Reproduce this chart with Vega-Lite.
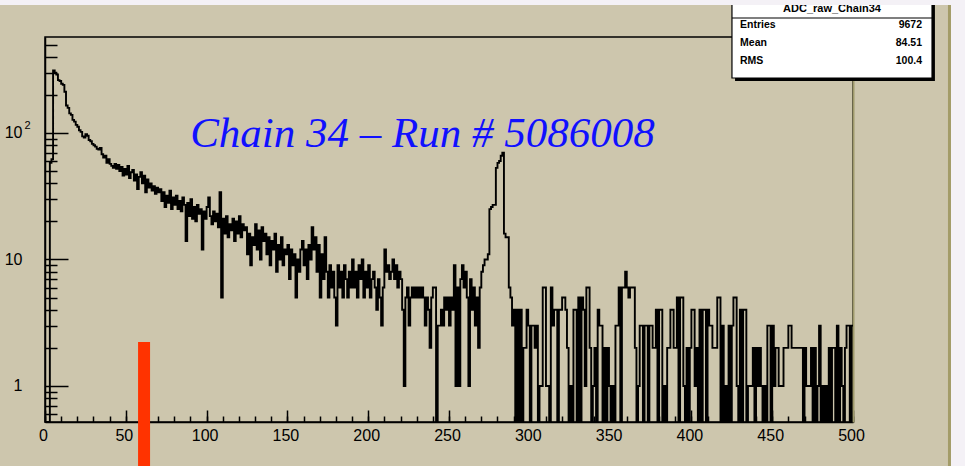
{
  "$schema": "https://vega.github.io/schema/vega-lite/v6.json",
  "width": 808,
  "height": 385,
  "autosize": {"type": "none"},
  "padding": {"left": 45, "top": 37, "right": 112, "bottom": 44},
  "background": "#cdc6ad",
  "config": {
    "view": {"stroke": "#000000", "strokeWidth": 1.5},
    "axis": {"grid": false, "title": null, "tickColor": "#000000", "tickWidth": 1.5, "labelColor": "#000000", "labelFont": "Liberation Sans", "labelFontSize": 16, "domainColor": "#000000", "domainWidth": 1.5}
  },
  "datasets": {
    "adc": [
      {"x":0,"n":0},{"x":1,"n":0},{"x":2,"n":0},{"x":3,"n":58},{"x":4,"n":62},{"x":5,"n":312},{"x":6,"n":300},{"x":7,"n":290},{"x":8,"n":262},{"x":9,"n":258},
      {"x":10,"n":245},{"x":11,"n":240},{"x":12,"n":212},{"x":13,"n":165},{"x":14,"n":158},{"x":15,"n":143},{"x":16,"n":139},{"x":17,"n":127},{"x":18,"n":123},{"x":19,"n":116},
      {"x":20,"n":112},{"x":21,"n":105},{"x":22,"n":102},{"x":23,"n":94},{"x":24,"n":92},{"x":25,"n":98},{"x":26,"n":95},{"x":27,"n":88},{"x":28,"n":86},{"x":29,"n":82},
      {"x":30,"n":80},{"x":31,"n":78},{"x":32,"n":75},{"x":33,"n":74},{"x":34,"n":76},{"x":35,"n":68},{"x":36,"n":64},{"x":37,"n":66},{"x":38,"n":58},{"x":39,"n":62},
      {"x":40,"n":57},{"x":41,"n":55},{"x":42,"n":53},{"x":43,"n":57},{"x":44,"n":52},{"x":45,"n":56},{"x":46,"n":50},{"x":47,"n":54},{"x":48,"n":46},{"x":49,"n":52},
      {"x":50,"n":47},{"x":51,"n":55},{"x":52,"n":44},{"x":53,"n":49},{"x":54,"n":51},{"x":55,"n":42},{"x":56,"n":47},{"x":57,"n":36},{"x":58,"n":45},{"x":59,"n":49},
      {"x":60,"n":40},{"x":61,"n":46},{"x":62,"n":34},{"x":63,"n":43},{"x":64,"n":37},{"x":65,"n":40},{"x":66,"n":35},{"x":67,"n":38},{"x":68,"n":33},{"x":69,"n":37},
      {"x":70,"n":34},{"x":71,"n":36},{"x":72,"n":29},{"x":73,"n":34},{"x":74,"n":26},{"x":75,"n":32},{"x":76,"n":28},{"x":77,"n":35},{"x":78,"n":25},{"x":79,"n":31},
      {"x":80,"n":27},{"x":81,"n":32},{"x":82,"n":25},{"x":83,"n":29},{"x":84,"n":24},{"x":85,"n":31},{"x":86,"n":27},{"x":87,"n":14},{"x":88,"n":28},{"x":89,"n":22},
      {"x":90,"n":30},{"x":91,"n":21},{"x":92,"n":26},{"x":93,"n":20},{"x":94,"n":27},{"x":95,"n":23},{"x":96,"n":25},{"x":97,"n":12},{"x":98,"n":24},{"x":99,"n":21},
      {"x":100,"n":26},{"x":101,"n":31},{"x":102,"n":22},{"x":103,"n":19},{"x":104,"n":24},{"x":105,"n":20},{"x":106,"n":23},{"x":107,"n":18},{"x":108,"n":34},{"x":109,"n":5},
      {"x":110,"n":21},{"x":111,"n":16},{"x":112,"n":22},{"x":113,"n":15},{"x":114,"n":19},{"x":115,"n":17},{"x":116,"n":21},{"x":117,"n":14},{"x":118,"n":20},{"x":119,"n":16},
      {"x":120,"n":22},{"x":121,"n":15},{"x":122,"n":19},{"x":123,"n":17},{"x":124,"n":18},{"x":125,"n":11},{"x":126,"n":16},{"x":127,"n":9},{"x":128,"n":15},{"x":129,"n":13},
      {"x":130,"n":19},{"x":131,"n":12},{"x":132,"n":17},{"x":133,"n":10},{"x":134,"n":18},{"x":135,"n":14},{"x":136,"n":16},{"x":137,"n":11},{"x":138,"n":15},{"x":139,"n":9},
      {"x":140,"n":14},{"x":141,"n":12},{"x":142,"n":16},{"x":143,"n":8},{"x":144,"n":13},{"x":145,"n":10},{"x":146,"n":15},{"x":147,"n":9},{"x":148,"n":12},{"x":149,"n":11},
      {"x":150,"n":13},{"x":151,"n":7},{"x":152,"n":12},{"x":153,"n":9},{"x":154,"n":11},{"x":155,"n":5},{"x":156,"n":10},{"x":157,"n":8},{"x":158,"n":12},{"x":159,"n":14},
      {"x":160,"n":9},{"x":161,"n":12},{"x":162,"n":7},{"x":163,"n":13},{"x":164,"n":10},{"x":165,"n":18},{"x":166,"n":12},{"x":167,"n":15},{"x":168,"n":8},{"x":169,"n":13},
      {"x":170,"n":5},{"x":171,"n":11},{"x":172,"n":7},{"x":173,"n":15},{"x":174,"n":8},{"x":175,"n":5},{"x":176,"n":9},{"x":177,"n":6},{"x":178,"n":8},{"x":179,"n":5},
      {"x":180,"n":3},{"x":181,"n":9},{"x":182,"n":6},{"x":183,"n":8},{"x":184,"n":5},{"x":185,"n":9},{"x":186,"n":7},{"x":187,"n":5},{"x":188,"n":8},{"x":189,"n":6},
      {"x":190,"n":10},{"x":191,"n":6},{"x":192,"n":8},{"x":193,"n":5},{"x":194,"n":9},{"x":195,"n":7},{"x":196,"n":10},{"x":197,"n":5},{"x":198,"n":8},{"x":199,"n":6},
      {"x":200,"n":9},{"x":201,"n":5},{"x":202,"n":7},{"x":203,"n":8},{"x":204,"n":6},{"x":205,"n":4},{"x":206,"n":7},{"x":207,"n":5},{"x":208,"n":3},{"x":209,"n":6},
      {"x":210,"n":12},{"x":211,"n":8},{"x":212,"n":9},{"x":213,"n":7},{"x":214,"n":8},{"x":215,"n":10},{"x":216,"n":7},{"x":217,"n":9},{"x":218,"n":6},{"x":219,"n":8},
      {"x":220,"n":7},{"x":221,"n":4},{"x":222,"n":1},{"x":223,"n":5},{"x":224,"n":6},{"x":225,"n":3},{"x":226,"n":5},{"x":227,"n":6},{"x":228,"n":5},{"x":229,"n":6},
      {"x":230,"n":5},{"x":231,"n":6},{"x":232,"n":5},{"x":233,"n":6},{"x":234,"n":5},{"x":235,"n":3},{"x":236,"n":5},{"x":237,"n":4},{"x":238,"n":2},{"x":239,"n":5},
      {"x":240,"n":6},{"x":241,"n":6},{"x":242,"n":0},{"x":243,"n":3},{"x":244,"n":3},{"x":245,"n":4},{"x":246,"n":3},{"x":247,"n":5},{"x":248,"n":4},{"x":249,"n":5},
      {"x":250,"n":3},{"x":251,"n":5},{"x":252,"n":4},{"x":253,"n":9},{"x":254,"n":1},{"x":255,"n":6},{"x":256,"n":1},{"x":257,"n":7},{"x":258,"n":9},{"x":259,"n":6},
      {"x":260,"n":8},{"x":261,"n":5},{"x":262,"n":1},{"x":263,"n":7},{"x":264,"n":4},{"x":265,"n":6},{"x":266,"n":3},{"x":267,"n":5},{"x":268,"n":2},{"x":269,"n":6},
      {"x":270,"n":8},{"x":271,"n":9},{"x":272,"n":10},{"x":273,"n":10},{"x":274,"n":11},{"x":275,"n":25},{"x":276,"n":26},{"x":277,"n":27},{"x":278,"n":27},{"x":279,"n":53},
      {"x":280,"n":58},{"x":281,"n":60},{"x":282,"n":66},{"x":283,"n":70},{"x":284,"n":16},{"x":285,"n":15},{"x":286,"n":15},{"x":287,"n":6},{"x":288,"n":5},{"x":289,"n":3},
      {"x":290,"n":4},{"x":291,"n":0},{"x":292,"n":4},{"x":293,"n":0},{"x":294,"n":4},{"x":295,"n":0},{"x":296,"n":2},{"x":297,"n":2},{"x":298,"n":4},{"x":299,"n":3},
      {"x":300,"n":0},{"x":301,"n":3},{"x":302,"n":3},{"x":303,"n":2},{"x":304,"n":3},{"x":305,"n":0},{"x":306,"n":1},{"x":307,"n":1},{"x":308,"n":6},{"x":309,"n":6},
      {"x":310,"n":1},{"x":311,"n":1},{"x":312,"n":0},{"x":313,"n":6},{"x":314,"n":3},{"x":315,"n":4},{"x":316,"n":4},{"x":317,"n":0},{"x":318,"n":4},{"x":319,"n":4},
      {"x":320,"n":5},{"x":321,"n":5},{"x":322,"n":4},{"x":323,"n":2},{"x":324,"n":0},{"x":325,"n":1},{"x":326,"n":0},{"x":327,"n":4},{"x":328,"n":4},{"x":329,"n":0},
      {"x":330,"n":5},{"x":331,"n":0},{"x":332,"n":5},{"x":333,"n":4},{"x":334,"n":1},{"x":335,"n":6},{"x":336,"n":6},{"x":337,"n":2},{"x":338,"n":0},{"x":339,"n":1},
      {"x":340,"n":2},{"x":341,"n":0},{"x":342,"n":4},{"x":343,"n":3},{"x":344,"n":3},{"x":345,"n":0},{"x":346,"n":2},{"x":347,"n":0},{"x":348,"n":2},{"x":349,"n":1},
      {"x":350,"n":0},{"x":351,"n":1},{"x":352,"n":0},{"x":353,"n":3},{"x":354,"n":3},{"x":355,"n":6},{"x":356,"n":0},{"x":357,"n":6},{"x":358,"n":6},{"x":359,"n":8},
      {"x":360,"n":6},{"x":361,"n":5},{"x":362,"n":6},{"x":363,"n":6},{"x":364,"n":6},{"x":365,"n":2},{"x":366,"n":0},{"x":367,"n":1},{"x":368,"n":3},{"x":369,"n":3},
      {"x":370,"n":0},{"x":371,"n":3},{"x":372,"n":3},{"x":373,"n":0},{"x":374,"n":3},{"x":375,"n":3},{"x":376,"n":2},{"x":377,"n":2},{"x":378,"n":4},{"x":379,"n":0},
      {"x":380,"n":4},{"x":381,"n":4},{"x":382,"n":0},{"x":383,"n":1},{"x":384,"n":0},{"x":385,"n":2},{"x":386,"n":2},{"x":387,"n":4},{"x":388,"n":4},{"x":389,"n":2},
      {"x":390,"n":2},{"x":391,"n":5},{"x":392,"n":0},{"x":393,"n":5},{"x":394,"n":5},{"x":395,"n":1},{"x":396,"n":0},{"x":397,"n":2},{"x":398,"n":0},{"x":399,"n":2},
      {"x":400,"n":4},{"x":401,"n":4},{"x":402,"n":1},{"x":403,"n":2},{"x":404,"n":0},{"x":405,"n":4},{"x":406,"n":0},{"x":407,"n":4},{"x":408,"n":4},{"x":409,"n":0},
      {"x":410,"n":4},{"x":411,"n":3},{"x":412,"n":3},{"x":413,"n":2},{"x":414,"n":2},{"x":415,"n":2},{"x":416,"n":5},{"x":417,"n":5},{"x":418,"n":0},{"x":419,"n":3},
      {"x":420,"n":0},{"x":421,"n":1},{"x":422,"n":0},{"x":423,"n":3},{"x":424,"n":0},{"x":425,"n":3},{"x":426,"n":5},{"x":427,"n":5},{"x":428,"n":1},{"x":429,"n":0},
      {"x":430,"n":4},{"x":431,"n":0},{"x":432,"n":4},{"x":433,"n":4},{"x":434,"n":0},{"x":435,"n":1},{"x":436,"n":1},{"x":437,"n":1},{"x":438,"n":2},{"x":439,"n":0},
      {"x":440,"n":2},{"x":441,"n":1},{"x":442,"n":2},{"x":443,"n":1},{"x":444,"n":0},{"x":445,"n":1},{"x":446,"n":0},{"x":447,"n":3},{"x":448,"n":3},{"x":449,"n":0},
      {"x":450,"n":3},{"x":451,"n":1},{"x":452,"n":2},{"x":453,"n":2},{"x":454,"n":1},{"x":455,"n":1},{"x":456,"n":1},{"x":457,"n":2},{"x":458,"n":2},{"x":459,"n":2},
      {"x":460,"n":3},{"x":461,"n":3},{"x":462,"n":2},{"x":463,"n":2},{"x":464,"n":2},{"x":465,"n":2},{"x":466,"n":2},{"x":467,"n":2},{"x":468,"n":2},{"x":469,"n":0},
      {"x":470,"n":2},{"x":471,"n":1},{"x":472,"n":1},{"x":473,"n":1},{"x":474,"n":2},{"x":475,"n":0},{"x":476,"n":2},{"x":477,"n":0},{"x":478,"n":1},{"x":479,"n":3},
      {"x":480,"n":0},{"x":481,"n":1},{"x":482,"n":0},{"x":483,"n":1},{"x":484,"n":0},{"x":485,"n":2},{"x":486,"n":0},{"x":487,"n":2},{"x":488,"n":2},{"x":489,"n":0},
      {"x":490,"n":3},{"x":491,"n":0},{"x":492,"n":2},{"x":493,"n":1},{"x":494,"n":0},{"x":495,"n":2},{"x":496,"n":3},{"x":497,"n":3},{"x":498,"n":0},{"x":499,"n":3},
      {"x":500,"n":3}
    ]
  },
  "layer": [
    {
      "data": {"name": "adc"},
      "mark": {"type": "line", "interpolate": "step-after", "color": "#000000", "strokeWidth": 1.9, "invalid": "show"},
      "encoding": {
        "x": {
          "field": "x", "type": "quantitative",
          "scale": {"domain": [0, 500], "nice": false, "zero": false},
          "axis": {"orient": "bottom", "values": [0,10,20,30,40,50,60,70,80,90,100,110,120,130,140,150,160,170,180,190,200,210,220,230,240,250,260,270,280,290,300,310,320,330,340,350,360,370,380,390,400,410,420,430,440,450,460,470,480,490,500], "tickSize": -6, "labels": false}
        },
        "y": {
          "field": "n", "type": "quantitative",
          "scale": {"type": "log", "domain": [0.519, 574], "nice": false, "clamp": true},
          "axis": {"orient": "left", "values": [0.6,0.7,0.8,0.9,2,3,4,5,6,7,8,9,20,30,40,50,60,70,80,90,200,300,400,500], "tickSize": -12, "labels": false}
        }
      }
    },
    {
      "layer": [
        {
          "data": {"values": [{}]},
          "mark": {"type": "rule", "color": "#ff3300", "strokeWidth": 12, "clip": false},
          "encoding": {
            "x": {"datum": 61.3, "type": "quantitative",
              "axis": {"orient": "bottom", "values": [0,50,100,150,200,250,300,350,400,450,500], "tickSize": -12, "labelPadding": 17, "labelOffset": -2, "labelFlush": false, "labelOverlap": false, "domain": false}},
            "y": {"datum": 2.23, "type": "quantitative",
              "scale": {"type": "log", "domain": [0.519, 574], "nice": false},
              "axis": {"orient": "left", "values": [1, 10, 100], "tickSize": -23, "labelPadding": 46, "labelExpr": "datum.value == 1 ? '1' : '10'", "labelOverlap": false, "domain": false}},
            "y2": {"datum": 0.23}
          }
        },
        {
          "data": {"values": [{}]},
          "mark": {"type": "text", "text": "2", "font": "Liberation Sans", "fontSize": 11, "color": "#000000", "align": "center", "baseline": "alphabetic", "clip": false},
          "encoding": {
            "x": {"datum": -10.8, "type": "quantitative", "axis": null},
            "y": {"datum": 108, "type": "quantitative", "axis": null}
          }
        },
        {
          "data": {"values": [{}]},
          "mark": {"type": "text", "text": "Chain 34 – Run # 5086008", "font": "Liberation Serif", "fontStyle": "italic", "fontSize": 43, "color": "#1010ff", "align": "center", "baseline": "alphabetic"},
          "encoding": {
            "x": {"datum": 233.6, "type": "quantitative", "axis": null},
            "y": {"datum": 77.5, "type": "quantitative",
              "axis": {"orient": "right", "ticks": false, "labels": false, "domainColor": "#9f9a6c", "domainWidth": 2}}
          }
        },
        {
          "data": {"values": [{}]},
          "mark": {"type": "rect", "color": "#000000", "clip": false},
          "encoding": {
            "x": {"datum": 427.0, "type": "quantitative", "axis": null},
            "x2": {"datum": 550.7},
            "y": {"datum": 1350, "type": "quantitative", "axis": null},
            "y2": {"datum": 257.8}
          }
        },
        {
          "data": {"values": [{}]},
          "mark": {"type": "rect", "fill": "#ffffff", "stroke": "#000000", "strokeWidth": 1.2, "clip": false},
          "encoding": {
            "x": {"datum": 425.1, "type": "quantitative", "axis": null},
            "x2": {"datum": 548.9},
            "y": {"datum": 1350, "type": "quantitative", "axis": null},
            "y2": {"datum": 272.2}
          }
        },
        {
          "data": {"values": [{}]},
          "mark": {"type": "rule", "color": "#000000", "strokeWidth": 1.2, "clip": false},
          "encoding": {
            "x": {"datum": 425.1, "type": "quantitative", "axis": null},
            "x2": {"datum": 548.9},
            "y": {"datum": 811, "type": "quantitative", "axis": null}
          }
        },
        {
          "data": {"values": [{}]},
          "mark": {"type": "text", "text": "ADC_raw_Chain34", "font": "Liberation Sans", "fontSize": 11, "fontWeight": "bold", "color": "#000000", "align": "center", "baseline": "alphabetic", "clip": false},
          "encoding": {
            "x": {"datum": 487.0, "type": "quantitative", "axis": null},
            "y": {"datum": 905, "type": "quantitative", "axis": null}
          }
        },
        {
          "data": {"values": [{"stat": "Entries", "value": "9672", "row": 676}, {"stat": "Mean", "value": "84.51", "row": 487}, {"stat": "RMS", "value": "100.4", "row": 351}]},
          "layer": [
            {
              "mark": {"type": "text", "font": "Liberation Sans", "fontSize": 10.5, "fontWeight": "bold", "color": "#000000", "align": "left", "baseline": "alphabetic", "clip": false},
              "encoding": {
                "x": {"datum": 430.1, "type": "quantitative", "axis": null},
                "y": {"field": "row", "type": "quantitative", "axis": null},
                "text": {"field": "stat"}
              }
            },
            {
              "mark": {"type": "text", "font": "Liberation Sans", "fontSize": 10.5, "fontWeight": "bold", "color": "#000000", "align": "right", "baseline": "alphabetic", "clip": false},
              "encoding": {
                "x": {"datum": 542.7, "type": "quantitative", "axis": null},
                "y": {"field": "row", "type": "quantitative", "axis": null},
                "text": {"field": "value"}
              }
            }
          ]
        },
        {
          "data": {"values": [{}]},
          "mark": {"type": "rect", "color": "#f4f1f6", "clip": false},
          "encoding": {
            "x": {"datum": -100, "type": "quantitative", "axis": null},
            "x2": {"datum": 700},
            "y": {"datum": 100000, "type": "quantitative", "axis": null},
            "y2": {"datum": 1028}
          }
        },
        {
          "data": {"values": [{}]},
          "mark": {"type": "rect", "color": "#f4f1f6", "clip": false},
          "encoding": {
            "x": {"datum": 560.6, "type": "quantitative", "axis": null},
            "x2": {"datum": 700},
            "y": {"datum": 100000, "type": "quantitative", "axis": null},
            "y2": {"datum": 0.001}
          }
        },
        {
          "data": {"values": [{}]},
          "mark": {"type": "rule", "color": "#a39c68", "strokeWidth": 3, "clip": false},
          "encoding": {
            "x": {"datum": 559.7, "type": "quantitative", "axis": null},
            "y": {"datum": 1028, "type": "quantitative", "axis": null},
            "y2": {"datum": 0.001}
          }
        }
      ],
      "resolve": {"axis": {"x": "independent", "y": "independent"}}
    }
  ],
  "resolve": {"scale": {"y": "independent"}, "axis": {"x": "independent", "y": "independent"}}
}
